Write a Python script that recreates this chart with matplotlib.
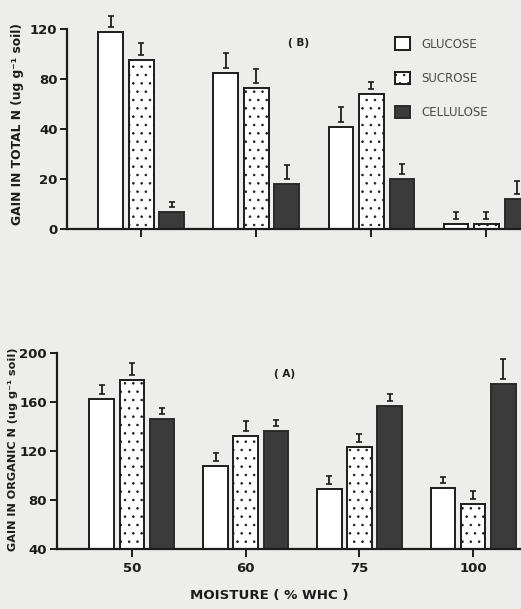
import numpy as np
import matplotlib
matplotlib.use("Agg")
import matplotlib.pyplot as plt
from matplotlib.transforms import offset_copy

# ---- data ----
moisture = ["50", "60", "75", "100"]
series = ["GLUCOSE", "SUCROSE", "CELLULOSE"]

# (B) gain in total N, ug g-1 soil
total_n = {
    "GLUCOSE": [118, 85, 42, 2],
    "SUCROSE": [95, 73, 68, 2],
    "CELLULOSE": [7, 18, 20, 12],
}
total_err = {
    "GLUCOSE": [4.4, 6.0, 6.0, 1.4],
    "SUCROSE": [4.8, 5.6, 2.8, 1.4],
    "CELLULOSE": [1.0, 2.8, 2.0, 2.6],
}
total_ticks = [0, 20, 40, 80, 120]

# (A) gain in organic N, ug g-1 soil
organic_n = {
    "GLUCOSE": [162, 108, 89, 90],
    "SUCROSE": [178, 132, 123, 77],
    "CELLULOSE": [146, 136, 157, 175],
}
organic_err = {
    "GLUCOSE": [4.0, 3.3, 3.3, 2.5],
    "SUCROSE": [5.0, 4.0, 3.3, 3.3],
    "CELLULOSE": [2.5, 2.5, 2.9, 8.0],
}
organic_ticks = [40, 80, 120, 160, 200]

INK = "#1c1c1c"
BG = "#ededeb"
styles = {
    "GLUCOSE": dict(facecolor="white", edgecolor=INK, hatch=None),
    "SUCROSE": dict(facecolor="white", edgecolor=INK, hatch=".."),
    "CELLULOSE": dict(facecolor="#3b3b3b", edgecolor="#2a2a2a", hatch=None),
}

plt.rcParams["font.family"] = ["DejaVu Sans"]
plt.rcParams["hatch.linewidth"] = 0.6


# the printed total-N axis has evenly spaced ticks labelled 0,20,40,80,120
def fwd(v):
    v = np.asarray(v, dtype=float)
    return np.where(v <= 40, v / 20, np.where(v <= 80, 2 + (v - 40) / 40, 3 + (v - 80) / 40))


def inv(i):
    i = np.asarray(i, dtype=float)
    return np.where(i <= 2, i * 20, np.where(i <= 3, 40 + (i - 2) * 40, 80 + (i - 3) * 40))


def draw(ax, values, errs, ticks, xlim, ylim, fig):
    x = np.arange(len(moisture))
    w, pitch = 0.215, 0.265
    gap = offset_copy(ax.transData, fig=fig, y=5, units="dots")
    for k, s in enumerate(series):
        xs = x + (k - 1) * pitch
        st = styles[s]
        ax.bar(xs, values[s], w, facecolor=st["facecolor"], edgecolor=st["edgecolor"],
               hatch=st["hatch"], linewidth=1.4, label=s, zorder=2)
        v = np.array(values[s], dtype=float)
        e = np.array(errs[s], dtype=float)
        ax.errorbar(xs, v + e, yerr=e, fmt="none", ecolor=INK, elinewidth=1.3,
                    capsize=2.5, capthick=1.2, transform=gap, clip_on=False, zorder=3)
    ax.set_xlim(*xlim)
    ax.set_ylim(*ylim)
    ax.set_yticks(ticks)
    ax.set_xticks(x)
    ax.set_facecolor(BG)
    for side in ("top", "right"):
        ax.spines[side].set_visible(False)
    for side in ("left", "bottom"):
        ax.spines[side].set_linewidth(1.6)
        ax.spines[side].set_color(INK)
    ax.tick_params(axis="y", direction="out", length=5, width=1.4, colors=INK,
                   labelsize=9.5, pad=2)
    ax.tick_params(axis="x", direction="out", length=6, width=1.4, colors=INK,
                   labelsize=9.5, pad=3)
    for t in ax.get_yticklabels() + ax.get_xticklabels():
        t.set_fontweight("bold")


fig = plt.figure(figsize=(5.21, 6.09), dpi=100, facecolor=BG)

# ---- top panel (B) ----
axB = fig.add_axes([0.129, 0.624, 0.871, 0.328])
axB.set_yscale("function", functions=(fwd, inv))
draw(axB, total_n, total_err, total_ticks, (-0.643, 3.30), (0, 120), fig)
axB.set_xticklabels([])
axB.text(0.51, 0.93, "( B)", transform=axB.transAxes, fontsize=7.5,
         fontweight="bold", color=INK, ha="center", va="center")
leg = axB.legend(loc="upper left", bbox_to_anchor=(0.70, 1.012), frameon=False,
                 handlelength=1.2, handleheight=1.3, handletextpad=1.0,
                 labelspacing=1.75, fontsize=8.5)
for t in leg.get_texts():
    t.set_color("#4a4a4a")
fig.text(0.033, 0.796, "GAIN IN TOTAL N (ug g\u207b\u00b9 soil)", rotation=90,
         ha="center", va="center", fontsize=8.8, fontweight="bold", color=INK)

# ---- bottom panel (A) ----
axA = fig.add_axes([0.109, 0.0985, 0.891, 0.322])
draw(axA, organic_n, organic_err, organic_ticks, (-0.66, 3.42), (40, 200), fig)
axA.set_xticklabels(moisture)
axA.text(0.49, 0.895, "( A)", transform=axA.transAxes, fontsize=7.5,
         fontweight="bold", color=INK, ha="center", va="center")
fig.text(0.024, 0.263, "GAIN IN ORGANIC N (ug g\u207b\u00b9 soil)", rotation=90,
         ha="center", va="center", fontsize=8.1, fontweight="bold", color=INK)
fig.text(0.516, 0.012, "MOISTURE ( % WHC )", ha="center", va="bottom",
         fontsize=9.6, fontweight="bold", color=INK)

fig.savefig("out.png", dpi=100, facecolor=BG)
